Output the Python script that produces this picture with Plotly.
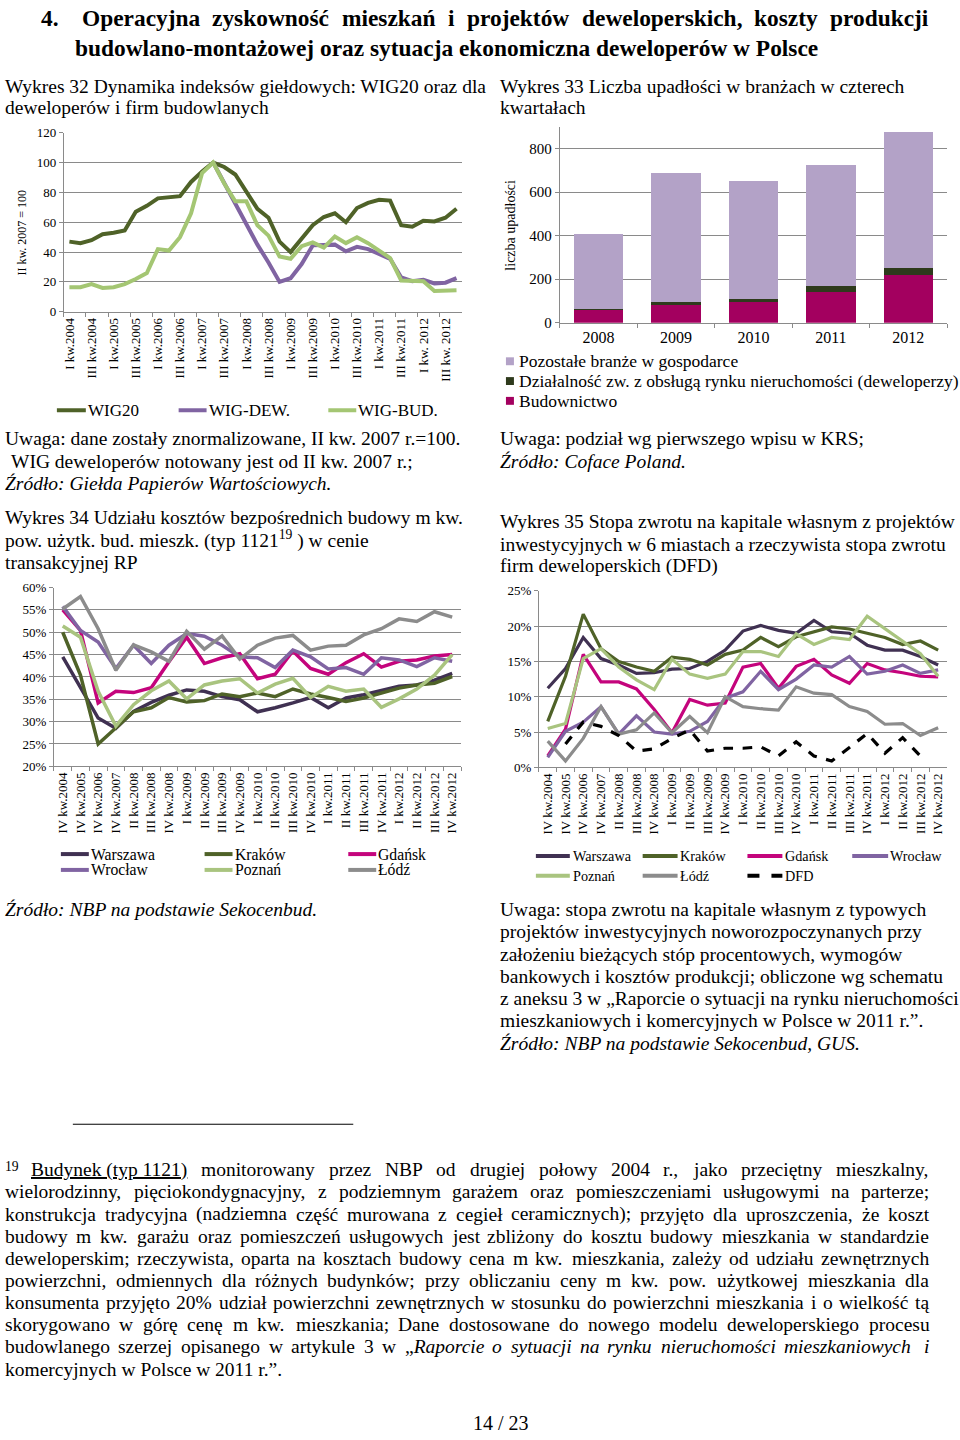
import re
import plotly.graph_objects as go

W, H = 960, 1440
FONT = "Liberation Serif"

# ---------------- Data ----------------
q32 = ["I kw.2004", "II kw.2004", "III kw.2004", "IV kw.2004",
       "I kw.2005", "II kw.2005", "III kw.2005", "IV kw.2005",
       "I kw.2006", "II kw.2006", "III kw.2006", "IV kw.2006",
       "I kw.2007", "II kw.2007", "III kw.2007", "IV kw.2007",
       "I kw.2008", "II kw.2008", "III kw.2008", "IV kw.2008",
       "I kw.2009", "II kw.2009", "III kw.2009", "IV kw.2009",
       "I kw.2010", "II kw.2010", "III kw.2010", "IV kw.2010",
       "I kw.2011", "II kw.2011", "III kw.2011", "IV kw.2011",
       "I kw. 2012", "II kw. 2012", "III kw. 2012", "IV kw. 2012"]
wig20 = [47, 46, 48, 52, 53, 54.5, 67, 71, 76, 77, 77.5, 87,
         94, 100, 97, 92, 80, 69, 63, 47, 40, 49, 58, 63.5,
         66, 60, 69.5, 73, 75, 74.5, 58, 57, 61, 60.5, 63, 69]
wig_dew = [None] * 13 + [100, 86, 73, 58, 45, 33, 20, 22.5, 32, 44.5, 45,
                         45, 40.5, 43.5, 42, 39, 35.5, 23, 20.5, 21.5, 19, 19.5, 22.5]
wig_bud = [16.5, 16.5, 18.5, 16, 16.5, 18.5, 22, 26, 42, 41, 50, 66,
           93, 100, 86, 74, 74, 58, 51, 37, 35.5, 44, 46.5, 43,
           50.5, 46, 50, 46, 41, 36, 21, 21, 20.5, 14, 14.5, 14.5]

years33 = ["2008", "2009", "2010", "2011", "2012"]
budownictwo = [62, 82, 97, 142, 218]
deweloperzy = [2, 13, 10, 26, 33]
pozostale = [344, 594, 546, 555, 623]

q34 = ["IV kw.2004", "IV kw.2005", "IV kw.2006", "IV kw.2007", "II kw.2008",
       "III kw.2008", "IV kw.2008", "I kw.2009", "II kw.2009", "III kw.2009",
       "IV kw.2009", "I kw.2010", "II kw.2010", "III kw.2010", "IV kw.2010",
       "I kw.2011", "II kw.2011", "III kw.2011", "IV kw.2011", "I kw.2012",
       "II kw.2012", "III kw.2012", "IV kw.2012"]
c34_warszawa = [44.5, 37.5, 30.8, 28.5, 32.3, 34.3, 35.9, 37.1, 36.8, 35.6, 34.9, 32.2,
                33.1, 34.2, 35.4, 33.1, 35.3, 36, 36.9, 37.9, 38.2, 39.3, 40.8]
c34_krakow = [50, 40.4, 25, 28.5, 32.2, 33.1, 35.4, 34.4, 34.7, 36.2, 35.6, 36.4,
              35.6, 37.3, 36.2, 35.4, 34.5, 35.3, 36.4, 37.5, 38.2, 38.6, 40.1]
c34_gdansk = [55, 50.4, 34.2, 36.8, 36.5, 37.6, 43.4, 48.9, 43, 44.3, 45.2, 39.6,
              40.6, 45.8, 41.9, 40.6, 43.2, 45.2, 42.2, 43.5, 43.8, 44.7, 45]
c34_wroclaw = [55.8, 50.4, 47.8, 41.9, 47.1, 43, 47.1, 49.7, 49.1, 47.1, 44.5, 44.3,
               42.1, 46, 44.5, 41.8, 42.1, 40.6, 44.3, 43.8, 42.3, 44.3, 43.5]
c34_poznan = [51.4, 48.9, 36.8, 29, 33.8, 36.9, 39.1, 35.1, 38.2, 39.1, 39.6, 36.4,
              38.4, 39.7, 35.4, 37.9, 36.8, 37.3, 33.2, 35.1, 37.3, 40.4, 45]
c34_lodz = [55.2, 58, 50.8, 41.5, 47.2, 45.6, 43.5, 50.2, 46.2, 49.2, 44, 47.1,
            48.7, 49.3, 46, 46.9, 47.1, 49.4, 50.8, 53, 52.4, 54.6, 53.4]

c35_warszawa = [11.2, 14, 18.4, 15.4, 14.5, 13.3, 13.4, 13.9, 14, 15, 16.6, 19.3,
                20.1, 19.4, 19, 20.8, 19.2, 19, 17.3, 16.6, 16.6, 15.7, 14.5]
c35_krakow = [6.5, 12.9, 21.7, 16.8, 15, 14.2, 13.6, 15.6, 15.3, 14.5, 16, 16.6,
              18.4, 17.1, 18.5, 19.2, 19.9, 19.6, 19, 18.4, 17.4, 17.9, 16.6]
c35_gdansk = [1.6, 5.4, 16, 12.1, 12.1, 11.1, 8.2, 4.9, 9.6, 8.8, 9.1, 14.2,
              14.7, 11.2, 14.3, 15.3, 13.1, 11.9, 14.7, 13.8, 13.4, 12.9, 12.8]
c35_wroclaw = [1.4, 5.1, 6.4, 8.6, 4.7, 7.3, 5, 4.7, 5.1, 6.5, 9.8, 10.7,
               13.6, 11, 12.5, 14.5, 14.2, 15.7, 13.2, 13.6, 14.5, 13.3, 13.8]
c35_poznan = [5.5, 6.2, 15.4, 16.8, 14.2, 12.4, 11, 15.3, 13.2, 12.6, 13.2, 16.4,
              16.4, 15.7, 18.9, 17.4, 18.4, 18.1, 21.4, 19.6, 17.9, 16.1, 12.9]
c35_lodz = [3.7, 0.9, 4.1, 8.6, 4.7, 5.3, 7.7, 4.9, 7.2, 4.9, 10, 8.6,
            8.3, 8.1, 11.4, 10.5, 10.3, 8.6, 7.9, 6.1, 6.2, 4.5, 5.6]
c35_dfd = [None, 3.3, 6.4, 5.8, 4.5, 2.3, 2.6, 4.1, 5.3, 2.3, 2.7, 2.7,
           2.9, 1.6, 3.6, 1.6, 0.9, 2.8, 4.8, 2.0, 4.2, 1.6, None]

# ---------------- Styles ----------------
C_WIG20 = "#4f6228"
C_DEW = "#8064a2"
C_BUD = "#a4c673"
C_WAR = "#403152"
C_KRA = "#4f6228"
C_GDA = "#c4047c"
C_WRO = "#8064a2"
C_POZ = "#a9c47f"
C_LOD = "#8c8c8c"
C_POZOST = "#b3a2c7"
C_DEWEL = "#2e3a1c"
C_BUDOW = "#a3005f"
GRID = "#8a8a8a"
BODY = 19.5


def fx(x):
    return x / W


def fy(y):
    return 1 - y / H


fig = go.Figure()

# Chart 32
for name, vals, col in [("WIG20", wig20, C_WIG20), ("WIG-DEW.", wig_dew, C_DEW),
                        ("WIG-BUD.", wig_bud, C_BUD)]:
    fig.add_trace(go.Scatter(x=q32, y=vals, name=name, mode="lines",
                             line=dict(color=col, width=4), xaxis="x", yaxis="y",
                             showlegend=False))
# Chart 33
for name, vals, col in [("Budownictwo", budownictwo, C_BUDOW),
                        ("Działalność zw. z obsługą rynku nieruchomości (deweloperzy)", deweloperzy, C_DEWEL),
                        ("Pozostałe branże w gospodarce", pozostale, C_POZOST)]:
    fig.add_trace(go.Bar(x=years33, y=vals, name=name, marker=dict(color=col, line=dict(width=0)),
                         xaxis="x2", yaxis="y2", showlegend=False))
# Chart 34
for name, vals, col in [("Warszawa", c34_warszawa, C_WAR), ("Kraków", c34_krakow, C_KRA),
                        ("Gdańsk", c34_gdansk, C_GDA), ("Wrocław", c34_wroclaw, C_WRO),
                        ("Poznań", c34_poznan, C_POZ), ("Łódź", c34_lodz, C_LOD)]:
    fig.add_trace(go.Scatter(x=q34, y=vals, name=name, mode="lines",
                             line=dict(color=col, width=3.5), xaxis="x3", yaxis="y3",
                             showlegend=False))
# Chart 35
for name, vals, col, dash in [("Warszawa", c35_warszawa, C_WAR, "solid"), ("Kraków", c35_krakow, C_KRA, "solid"),
                              ("Gdańsk", c35_gdansk, C_GDA, "solid"), ("Wrocław", c35_wroclaw, C_WRO, "solid"),
                              ("Poznań", c35_poznan, C_POZ, "solid"), ("Łódź", c35_lodz, C_LOD, "solid"),
                              ("DFD", c35_dfd, "#000000", "dash")]:
    fig.add_trace(go.Scatter(x=q34, y=vals, name=name, mode="lines",
                             line=dict(color=col, width=3.2, dash=dash), xaxis="x4", yaxis="y4",
                             showlegend=False))


def xax(x0, x1, anchor, size=12, angle=-90, rng=None):
    d = dict(domain=[fx(x0), fx(x1)], anchor=anchor, type="category",
             tickangle=angle, tickfont=dict(family=FONT, size=size, color="#000"),
             showline=True, linecolor=GRID, linewidth=1, ticks="outside",
             tickson="boundaries", ticklen=4, tickcolor=GRID, showgrid=False,
             zeroline=False, fixedrange=True)
    if rng is not None:
        d["range"] = rng
    return d


def yax(y0, y1, anchor, rng, dtick, size=13, suffix="", tickvals=None):
    d = dict(domain=[fy(y1), fy(y0)], anchor=anchor, range=rng, dtick=dtick,
             tickfont=dict(family=FONT, size=size, color="#000"), ticksuffix=suffix,
             showline=True, linecolor=GRID, linewidth=1, ticks="outside",
             ticklen=4, tickcolor=GRID, showgrid=True, gridcolor=GRID, gridwidth=1,
             zeroline=False, fixedrange=True)
    if tickvals is not None:
        d["tickvals"] = tickvals
    return d


fig.update_layout(
    width=W, height=H, margin=dict(l=0, r=0, t=0, b=0),
    paper_bgcolor="white", plot_bgcolor="white",
    barmode="stack", bargap=0.36, showlegend=False,
    font=dict(family=FONT, color="#000"),
    xaxis=xax(62, 461, "y", size=13, rng=[-0.5, 35.5]),
    yaxis=yax(127, 308, "x", [0, 120], 20, size=13),
    xaxis2=xax(559, 947, "y2", size=16, angle=0),
    yaxis2=yax(121, 319, "x2", [0, 900], 200, size=15, tickvals=[0, 200, 400, 600, 800]),
    xaxis3=xax(52, 460, "y3", size=13, rng=[-0.5, 22.5]),
    yaxis3=yax(586.7, 767.3, "x3", [20, 60], 5, size=13, suffix="%"),
    xaxis4=xax(538, 947, "y4", size=13, rng=[-0.5, 22.5]),
    yaxis4=yax(590, 768.3, "x4", [0, 25], 5, size=13, suffix="%"),
)

ann = []
shapes = []

# Times-Roman / Times-Bold advance widths (1/1000 em) used to justify text lines
_R = dict(zip("abcdefghijklmnopqrstuvwxyz",
              [444, 500, 444, 500, 444, 333, 500, 500, 278, 278, 500, 278, 778, 500, 500, 500, 500, 333, 389, 278, 500, 500, 722, 500, 500, 444]))
_R.update(dict(zip("ABCDEFGHIJKLMNOPQRSTUVWXYZ",
                   [722, 667, 667, 722, 611, 556, 722, 722, 333, 389, 722, 611, 889, 722, 722, 556, 722, 667, 556, 611, 722, 722, 944, 722, 722, 611])))
_R.update({c: 500 for c in "0123456789"})
_R.update({" ": 250, ".": 250, ",": 250, ";": 278, ":": 278, "(": 333, ")": 333, "%": 833, "-": 333,
           "„": 444, "”": 444, "=": 564, "ą": 444, "ć": 444, "ę": 444, "ł": 278, "ń": 500, "ó": 500,
           "ś": 389, "ź": 444, "ż": 444, "Ł": 611, "Ź": 611, "Ż": 611})
_B = dict(_R)
_B.update(dict(zip("abcdefghijklmnopqrstuvwxyz",
                   [500, 556, 444, 556, 444, 333, 500, 556, 278, 333, 556, 278, 833, 556, 500, 556, 556, 444, 389, 333, 556, 500, 722, 500, 500, 444])))
_B.update({"O": 778, "ń": 556, "ó": 500, "ś": 389, "ć": 444})


def textw(s, size, table=_R):
    plain = re.sub(r"<[^>]+>", "", s)
    return sum(table.get(ch, 500) for ch in plain) * size / 1000.0


def T(text, x, y, size=BODY, anchor="left", angle=0):
    ann.append(dict(text=text, x=fx(x), y=fy(y), xref="paper", yref="paper",
                    xanchor=anchor, yanchor="middle", showarrow=False, textangle=angle,
                    borderpad=0, font=dict(family=FONT, size=size, color="#000")))


def JUSTIFY(chunks, x0, x1, y, size=BODY, table=_R):
    widths = [textw(c, size, table) for c in chunks]
    gap = (x1 - x0 - sum(widths)) / max(1, len(chunks) - 1)
    x = x0
    for c, w in zip(chunks, widths):
        T(c, x, y, size)
        x += w + gap


def LEG_LINE(x0, x1, y, col, width=4, dash="solid"):
    shapes.append(dict(type="line", xref="paper", yref="paper", x0=fx(x0), x1=fx(x1),
                       y0=fy(y), y1=fy(y), line=dict(color=col, width=width, dash=dash)))


def LEG_BOX(x0, y, col, s=8):
    shapes.append(dict(type="rect", xref="paper", yref="paper", x0=fx(x0), x1=fx(x0 + s),
                       y0=fy(y - s / 2), y1=fy(y + s / 2), fillcolor=col, line=dict(width=0)))


# Header
HS = 23.4
T("<b>4.</b>", 38, 11, HS)
JUSTIFY(["<b>%s</b>" % w for w in
         "Operacyjna zyskowność mieszkań i projektów deweloperskich, koszty produkcji".split(" ")],
        79, 928, 11, HS, _B)
T("<b>budowlano-montażowej oraz sytuacja ekonomiczna deweloperów w Polsce</b>", 72, 41, HS)

# Chart titles
T("Wykres 32 Dynamika indeksów giełdowych: WIG20 oraz dla", 2, 80)
T("deweloperów i firm budowlanych", 2, 102)
T("Wykres 33 Liczba upadłości w branżach w czterech", 498, 80)
T("kwartałach", 498, 102)

# Chart 32 extras
T("II kw. 2007 = 100", 20, 228, 12, anchor="center", angle=-90)
LEG_LINE(55, 84, 407.5, C_WIG20)
T("WIG20", 85, 407.5, 17)
LEG_LINE(177, 205, 407.5, C_DEW)
T("WIG-DEW.", 206, 407.5, 17)
LEG_LINE(327, 355, 407.5, C_BUD)
T("WIG-BUD.", 356, 407.5, 17)

# Chart 33 extras
T("liczba upadłości", 510, 220, 14, anchor="center", angle=-90)
LEG_BOX(505, 358, C_POZOST)
T("Pozostałe branże w gospodarce", 517, 358, 17.5)
LEG_BOX(505, 378, C_DEWEL)
T("Działalność zw. z obsługą rynku nieruchomości (deweloperzy)", 517, 378, 17.5)
LEG_BOX(505, 398, C_BUDOW)
T("Budownictwo", 517, 398, 17.5)

# Notes under charts 32 / 33
T("Uwaga: dane zostały znormalizowane, II kw. 2007 r.=100.", 2, 436)
T("WIG deweloperów notowany jest od II kw. 2007 r.;", 8, 459)
T("<i>Źródło: Giełda Papierów Wartościowych.</i>", 2, 482)
T("Uwaga: podział wg pierwszego wpisu w KRS;", 498, 436)
T("<i>Źródło: Coface Poland.</i>", 498, 459)

# Chart 34/35 titles
T("Wykres 34 Udziału kosztów bezpośrednich budowy m kw.", 2, 516)
T("pow. użytk. bud. mieszk. (typ 1121<sup>19</sup> ) w cenie", 2, 538)
T("transakcyjnej RP", 2, 561)
T("Wykres 35 Stopa zwrotu na kapitale własnym z projektów", 498, 520)
T("inwestycyjnych w 6 miastach a rzeczywista stopa zwrotu", 498, 543)
T("firm deweloperskich (DFD)", 498, 565)

# Chart 34 legend
for (x0, x1, tx, y, col, name) in [
        (59, 87, 88, 856, C_WAR, "Warszawa"), (203, 231, 232, 856, C_KRA, "Kraków"),
        (347, 375, 376, 856, C_GDA, "Gdańsk"), (59, 87, 88, 872, C_WRO, "Wrocław"),
        (203, 231, 232, 872, C_POZ, "Poznań"), (347, 375, 376, 872, C_LOD, "Łódź")]:
    LEG_LINE(x0, x1, y, col)
    T(name, tx, y, 15.7)

# Chart 35 legend
for (x0, x1, tx, y, col, name, dash) in [
        (535, 569, 571, 858, C_WAR, "Warszawa", "solid"), (642, 677, 678, 858, C_KRA, "Kraków", "solid"),
        (747, 782, 784, 858, C_GDA, "Gdańsk", "solid"), (852, 888, 889, 858, C_WRO, "Wrocław", "solid"),
        (535, 569, 571, 878, C_POZ, "Poznań", "solid"), (642, 677, 678, 878, C_LOD, "Łódź", "solid"),
        (747, 782, 784, 878, "#000000", "DFD", "dash")]:
    LEG_LINE(x0, x1, y, col, width=4, dash=dash)
    T(name, tx, y, 14.2)

# Sources / notes
T("<i>Źródło: NBP na podstawie Sekocenbud.</i>", 2, 912)
for i, line in enumerate([
        "Uwaga: stopa zwrotu na kapitale własnym z typowych",
        "projektów inwestycyjnych noworozpoczynanych przy",
        "założeniu bieżących stóp procentowych, wymogów",
        "bankowych i kosztów produkcji; obliczone wg schematu",
        "z aneksu 3 w „Raporcie o sytuacji na rynku nieruchomości",
        "mieszkaniowych i komercyjnych w Polsce w 2011 r.”.",
        "<i>Źródło: NBP na podstawie Sekocenbud, GUS.</i>"]):
    T(line, 498, 912 + i * 22.5)

# Footnote
shapes.append(dict(type="line", xref="paper", yref="paper", x0=fx(71), x1=fx(352),
                   y0=fy(1129), y1=fy(1129), line=dict(color="#000", width=1)))
T("<sup>19</sup>", 2, 1172)
foot_first = ["<u>Budynek (typ 1121)</u>"] + \
    "monitorowany przez NBP od drugiej połowy 2004 r., jako przeciętny mieszkalny,".split(" ")
JUSTIFY(foot_first, 28, 928, 1175)
foot = [
    "wielorodzinny, pięciokondygnacyjny, z podziemnym garażem oraz pomieszczeniami usługowymi na parterze;",
    "konstrukcja tradycyjna (nadziemna część murowana z cegieł ceramicznych); przyjęto dla uproszczenia, że koszt",
    "budowy m kw. garażu oraz pomieszczeń usługowych jest zbliżony do kosztu budowy mieszkania w standardzie",
    "deweloperskim; rzeczywista, oparta na kosztach budowy cena m kw. mieszkania, zależy od udziału zewnętrznych",
    "powierzchni, odmiennych dla różnych budynków; przy obliczaniu ceny m kw. pow. użytkowej mieszkania dla",
    "konsumenta przyjęto 20% udział powierzchni zewnętrznych w stosunku do powierzchni mieszkania i o wielkość tą",
    "skorygowano w górę cenę m kw. mieszkania; Dane dostosowane do nowego modelu deweloperskiego procesu",
]
for i, line in enumerate(foot):
    JUSTIFY(line.split(" "), 2, 928, 1197.4 + i * 22.4)
line9 = "budowlanego szerzej opisanego w artykule 3 w".split(" ") + \
    ["„<i>Raporcie</i>"] + ["<i>%s</i>" % w for w in "o sytuacji na rynku nieruchomości mieszkaniowych i".split(" ")]
JUSTIFY(line9, 2, 928, 1354)
T("komercyjnych w Polsce w 2011 r.”.", 2, 1376.5)

T("14 / 23", 500, 1431, 20, anchor="center")

fig.update_layout(annotations=ann, shapes=shapes)
fig.write_html("out.html", config={"displayModeBar": False},
               post_script="document.body.style.margin='0';document.body.style.padding='0';")
